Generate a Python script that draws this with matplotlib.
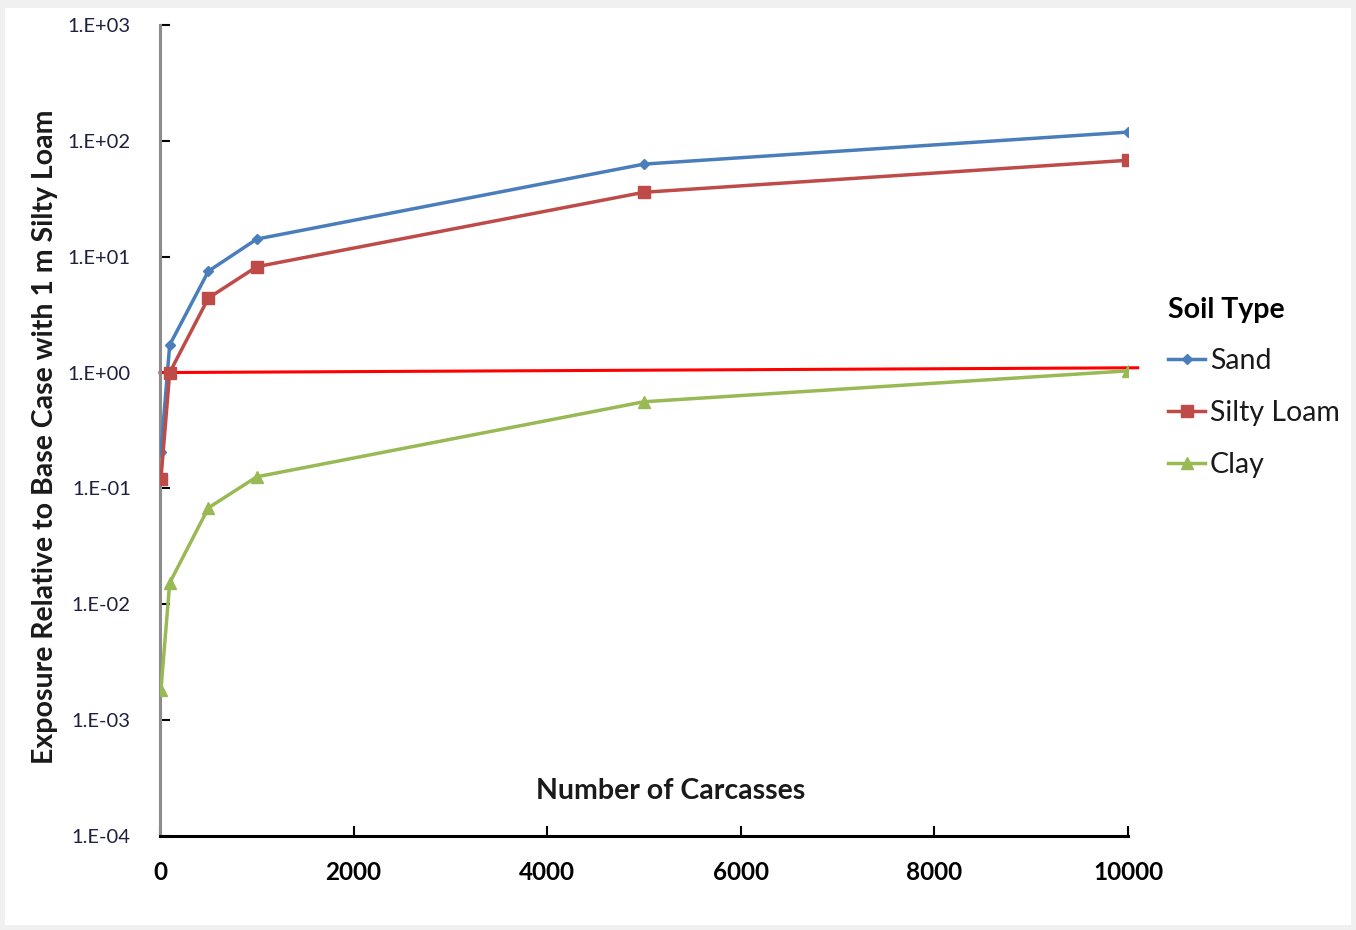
import matplotlib.pyplot as plt
from matplotlib.patches import Rectangle
from matplotlib.ticker import FixedLocator, FixedFormatter, NullLocator

plt.rcParams['font.family'] = ['Lato', 'DejaVu Sans']

carcasses = [10, 100, 500, 1000, 5000, 10000]
sand = [0.207, 1.73, 7.5, 14.2, 63, 119]
silty_loam = [0.121, 1.0, 4.4, 8.2, 36, 68]
clay = [0.00183, 0.0153, 0.068, 0.126, 0.56, 1.035]

base_x = [0, 10100]
base_y = [1.0, 1.1]

y_ticks = [1e-4, 1e-3, 1e-2, 1e-1, 1e0, 1e1, 1e2, 1e3]
y_labels = ["1.E-04", "1.E-03", "1.E-02", "1.E-01", "1.E+00", "1.E+01", "1.E+02", "1.E+03"]
x_ticks = [0, 2000, 4000, 6000, 8000, 10000]

fig = plt.figure(figsize=(13.56, 9.3), dpi=100, facecolor="#f0f0f0")
fig.patches.append(Rectangle((5 / 1356, 5 / 930), 1346 / 1356, 917 / 930,
                             transform=fig.transFigure, facecolor="white",
                             edgecolor="none", zorder=-1))
ax = fig.add_axes([160 / 1356, 1 - 836 / 930, 968 / 1356, 811 / 930])
ax.set_facecolor("white")

ax.plot(base_x, base_y, color="#ff0000", lw=2.2, zorder=2, clip_on=False)
ax.plot(carcasses, sand, color="#4a7ebb", lw=2.5, marker="D", ms=5, label="Sand", zorder=3)
ax.plot(carcasses, silty_loam, color="#be4b48", lw=2.5, marker="s", ms=8, label="Silty Loam", zorder=3)
ax.plot(carcasses, clay, color="#98b954", lw=2.5, marker="^", ms=8, label="Clay", zorder=3)

ax.set_yscale("log")
ax.set_ylim(1e-4, 1e3)
ax.set_xlim(0, 10000)
ax.yaxis.set_major_locator(FixedLocator(y_ticks))
ax.yaxis.set_major_formatter(FixedFormatter(y_labels))
ax.yaxis.set_minor_locator(NullLocator())
ax.set_xticks(x_ticks)
ax.set_xticklabels([str(v) for v in x_ticks], fontweight="bold")

for s in ["top", "right"]:
    ax.spines[s].set_visible(False)
ax.spines["left"].set_color("#8c8c8c")
ax.spines["left"].set_linewidth(2.2)
ax.spines["bottom"].set_color("black")
ax.spines["bottom"].set_linewidth(2.2)
ax.tick_params(axis="y", direction="in", length=7, width=1.5, color="black",
               labelsize=14.5, labelcolor="#1f1f3f", pad=21)
ax.tick_params(axis="x", direction="in", length=7, width=1.5, color="black",
               labelsize=17.5, pad=18)

ax.text(0.528, 0.055, "Number of Carcasses", transform=ax.transAxes,
        ha="center", va="center", fontsize=20.5, fontweight="bold", color="#1a1a1a")
fig.text(45 / 1356, 1 - 437 / 930, "Exposure Relative to Base Case with 1 m Silty Loam",
         rotation=90, ha="center", va="center", fontsize=20.5, fontweight="bold", color="#1a1a1a")

leg = ax.legend(title="Soil Type", loc="upper left", bbox_to_anchor=(1.03, 0.679),
                frameon=False, fontsize=20.5, title_fontsize=20.5, handlelength=1.3,
                handletextpad=0.15, labelspacing=0.9, borderaxespad=0)
leg.get_title().set_fontweight("bold")
leg._legend_box.align = "left"
for t in leg.get_texts():
    t.set_color("#1a1a1a")

fig.savefig("out.png", dpi=100, facecolor=fig.get_facecolor())
